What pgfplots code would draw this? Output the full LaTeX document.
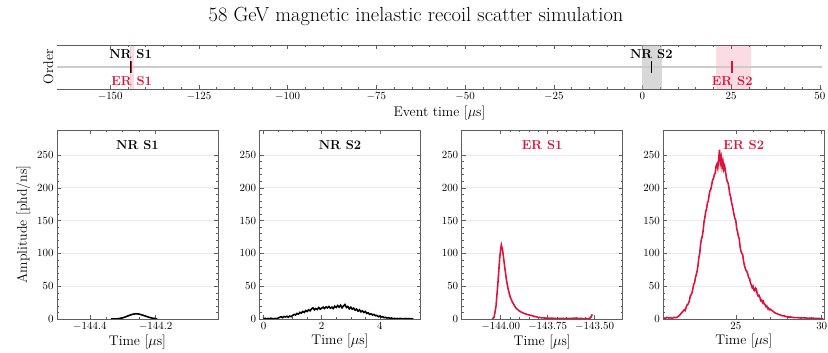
\documentclass[border=0pt]{standalone}
\usepackage{pgfplots}
\pgfplotsset{compat=1.18}
\definecolor{crim}{RGB}{220,20,60}
\definecolor{spine}{RGB}{95,95,95}
\pgfplotsset{
  base/.style={scale only axis, axis line style={spine, line width=0.6pt}, tick style={spine, line width=0.5pt},
    major tick length=4bp, minor tick length=2bp,
    tick label style={font=\fontsize{11}{13}\selectfont},
    label style={font=\fontsize{14}{16}\selectfont},
    scaled x ticks=false, scaled y ticks=false},
  panel/.style={base, width=161bp, height=189bp, anchor=south west,
    ymin=0, ymax=288, ytick={0,50,...,250}, minor y tick num=4,
    ymajorgrids, major grid style={gray!15, line width=0.6pt},
    xlabel={Time [$\mu$s]}, xlabel style={yshift=2bp}},
}
\begin{document}
\begin{tikzpicture}
\useasboundingbox (0,0) rectangle (828bp,353bp);
\node[font=\fontsize{20.5}{24}\selectfont] at (416bp,337bp) {58 GeV magnetic inelastic recoil scatter simulation};
% ---------- top overview ----------
\begin{axis}[base, at={(57bp,264bp)}, anchor=south west, width=765bp, height=44bp,
  xmin=-165, xmax=50.6, ymin=-1, ymax=1,
  xtick={-150,-125,...,50}, minor x tick num=4, ytick=\empty,
  separate axis lines, y axis line style={draw=none},
  xlabel={Event time [$\mu$s]}, ylabel={Order}, xlabel style={yshift=1bp}]
\fill[gray!60, opacity=0.5] (axis cs:-144.5,-1) rectangle (axis cs:-144.01,1);
\fill[crim, opacity=0.15] (axis cs:-144.21,-1) rectangle (axis cs:-143.35,1);
\fill[gray!60, opacity=0.5] (axis cs:-0.14,-1) rectangle (axis cs:5.4,1);
\fill[crim, opacity=0.15] (axis cs:20.6,-1) rectangle (axis cs:30.7,1);
\addplot[gray!40, line width=1.4pt] coordinates {(-165,0) (50.6,0)};
\addplot[black, line width=1.8pt] coordinates {(-144.27,-0.27) (-144.27,0.27)};
\addplot[crim, line width=1.4pt] coordinates {(-143.98,-0.27) (-143.98,0.27)};
\addplot[black, line width=1.6pt] coordinates {(2.5,-0.27) (2.5,0.27)};
\addplot[crim, line width=1.6pt] coordinates {(25.3,-0.27) (25.3,0.27)};
\node[font=\fontsize{13}{15}\selectfont\bfseries, black] at (axis cs:-144.27,0.6) {NR S1};
\node[font=\fontsize{13}{15}\selectfont\bfseries, crim] at (axis cs:-143.98,-0.62) {ER S1};
\node[font=\fontsize{13}{15}\selectfont\bfseries, black] at (axis cs:2.5,0.6) {NR S2};
\node[font=\fontsize{13}{15}\selectfont\bfseries, crim] at (axis cs:25.3,-0.62) {ER S2};
\end{axis}
% ---------- NR S1 ----------
\begin{axis}[panel, at={(57bp,34bp)}, xmin=-144.5, xmax=-144.01,
  xtick={-144.4,-144.2}, minor x tick num=3,
  xticklabel style={/pgf/number format/.cd, fixed, fixed zerofill, precision=1},
  ylabel={Amplitude [phd/ns]}]
\addplot[black, line width=1.6pt] coordinates {
(-144.335,0) (-144.32,0.2) (-144.31,0.8) (-144.30,1.8) (-144.29,3.5) (-144.28,5.5) (-144.27,7.2)
(-144.26,8.0) (-144.25,7.5) (-144.24,6.0) (-144.23,4.3) (-144.22,2.6) (-144.21,1.3) (-144.20,0.5) (-144.195,0)};
\node[font=\fontsize{13}{15}\selectfont\bfseries, black] at (axis description cs:0.5,0.92) {NR S1};
\end{axis}
% ---------- NR S2 ----------
\begin{axis}[panel, at={(259.5bp,34bp)}, xmin=-0.14, xmax=5.4,
  xtick={0,2,4}, minor x tick num=3]
\addplot[black, line width=1.6pt] coordinates {
(0.00,0.5) (0.05,1.0) (0.10,0.3) (0.15,0.8) (0.20,0.4) (0.25,1.2) (0.30,0.6) (0.35,0.2) (0.40,0.9) (0.45,0.5)
(0.50,1.5) (0.55,2.5) (0.60,3.5) (0.65,2.0) (0.70,3.8) (0.75,3.0) (0.80,4.2) (0.85,2.8) (0.90,4.5) (0.95,3.5)
(1.00,5.5) (1.05,7.0) (1.10,6.0) (1.15,8.5) (1.20,7.5) (1.25,10.0) (1.30,9.0) (1.35,11.5) (1.40,10.0) (1.45,13.0)
(1.50,11.5) (1.55,14.0) (1.60,12.5) (1.65,15.5) (1.70,17.0) (1.75,14.0) (1.80,16.0) (1.85,14.5) (1.90,17.5) (1.95,15.0)
(2.00,16.5) (2.05,18.0) (2.10,16.0) (2.15,18.5) (2.20,17.0) (2.25,19.0) (2.30,16.5) (2.35,18.0) (2.40,16.0) (2.45,19.5)
(2.50,17.5) (2.55,20.5) (2.60,18.0) (2.65,21.0) (2.70,17.0) (2.75,20.0) (2.80,22.0) (2.85,17.5) (2.90,19.0) (2.95,15.5)
(3.00,18.0) (3.05,15.0) (3.10,16.5) (3.15,13.5) (3.20,15.0) (3.25,12.0) (3.30,14.0) (3.35,11.0) (3.40,12.5) (3.45,10.0)
(3.50,11.5) (3.55,8.5) (3.60,9.5) (3.65,7.0) (3.70,8.0) (3.75,6.0) (3.80,7.0) (3.85,5.0) (3.90,5.5) (3.95,3.5)
(4.00,4.5) (4.05,3.0) (4.10,3.5) (4.15,2.0) (4.20,2.5) (4.25,1.5) (4.30,2.0) (4.35,1.0) (4.40,1.5) (4.45,0.5)
(4.50,1.0) (4.55,0.3) (4.60,0.8) (4.65,0.4) (4.70,1.0) (4.75,0.3) (4.80,0.6) (4.85,0.2) (4.90,0.8) (4.95,0.3)
(5.00,0.5) (5.05,0.2) (5.10,0.4) (5.15,0.1)};
\node[font=\fontsize{13}{15}\selectfont\bfseries, black] at (axis description cs:0.5,0.92) {NR S2};
\end{axis}
% ---------- ER S1 ----------
\begin{axis}[panel, at={(461.7bp,34bp)}, xmin=-144.208, xmax=-143.35,
  xtick={-144.0,-143.75,-143.5}, minor x tick num=4,
  xticklabel style={/pgf/number format/.cd, fixed, fixed zerofill, precision=2}]
\addplot[crim, line width=1.6pt] coordinates {
(-144.045,0) (-144.035,3) (-144.025,20) (-144.015,55) (-144.005,95) (-143.997,113) (-143.99,105)
(-143.98,82) (-143.97,60) (-143.96,45) (-143.95,34) (-143.94,27) (-143.93,22) (-143.92,17) (-143.90,12)
(-143.88,9) (-143.86,7) (-143.84,5.5) (-143.82,4) (-143.80,2.5) (-143.78,1.8) (-143.75,1.2) (-143.70,1)
(-143.65,0.8) (-143.60,1.2) (-143.56,0.6) (-143.53,0.4) (-143.52,2.5) (-143.512,7)};
\node[font=\fontsize{13}{15}\selectfont\bfseries, crim] at (axis description cs:0.5,0.92) {ER S1};
\end{axis}
% ---------- ER S2 ----------
\begin{axis}[panel, at={(663.3bp,34bp)}, xmin=20.78, xmax=30.15,
  xtick={25,30}, minor x tick num=4]
\addplot[crim, line width=1.6pt] coordinates {
(20.8,2) (20.9,1) (21.0,2.5) (21.1,1.5) (21.2,2) (21.3,1) (21.4,2.5) (21.5,2) (21.6,3) (21.7,5) (21.8,8) (21.9,11)
(22.00,14) (22.05,13) (22.10,17) (22.15,21) (22.20,22) (22.25,24) (22.30,28) (22.35,35) (22.40,37) (22.45,40)
(22.50,46) (22.55,53) (22.60,55) (22.65,63) (22.70,68) (22.75,73) (22.80,82) (22.85,94) (22.90,100) (22.95,114)
(23.00,122) (23.05,126) (23.10,135) (23.15,148) (23.20,155) (23.25,164) (23.30,168) (23.35,177) (23.40,180) (23.45,190)
(23.50,196) (23.55,198) (23.60,205) (23.65,212) (23.70,214) (23.75,220) (23.80,222) (23.85,233) (23.90,236) (23.95,230)
(24.00,243) (24.05,258) (24.10,238) (24.15,246) (24.20,232) (24.25,240) (24.30,228) (24.35,233) (24.40,225) (24.45,215)
(24.50,210) (24.55,207) (24.60,200) (24.65,190) (24.70,186) (24.75,178) (24.80,172) (24.85,166) (24.90,158) (24.95,153)
(25.00,150) (25.05,138) (25.10,133) (25.15,126) (25.20,122) (25.25,110) (25.30,103) (25.35,100) (25.40,98) (25.45,88)
(25.50,82) (25.55,77) (25.60,74) (25.65,72) (25.70,68) (25.75,63) (25.80,62) (25.85,55) (25.90,52) (25.95,48)
(26.00,50) (26.05,44) (26.10,43) (26.15,47) (26.20,45) (26.25,38) (26.30,35) (26.35,36) (26.40,33) (26.45,28)
(26.50,29) (26.55,25) (26.60,27) (26.65,23) (26.70,22) (26.75,19) (26.80,20) (26.85,16) (26.90,17) (26.95,14)
(27.00,15) (27.1,13) (27.2,11) (27.3,9) (27.4,8) (27.5,7) (27.6,6) (27.7,5) (27.8,5) (27.9,4) (28.0,3)
(28.2,3) (28.4,2) (28.6,2) (28.8,1.5) (29.0,2) (29.2,1) (29.4,1.5) (29.6,1) (29.8,1) (30.0,0.5) (30.1,0.5)};
\node[font=\fontsize{13}{15}\selectfont\bfseries, crim] at (axis description cs:0.5,0.92) {ER S2};
\end{axis}
\end{tikzpicture}
\end{document}
